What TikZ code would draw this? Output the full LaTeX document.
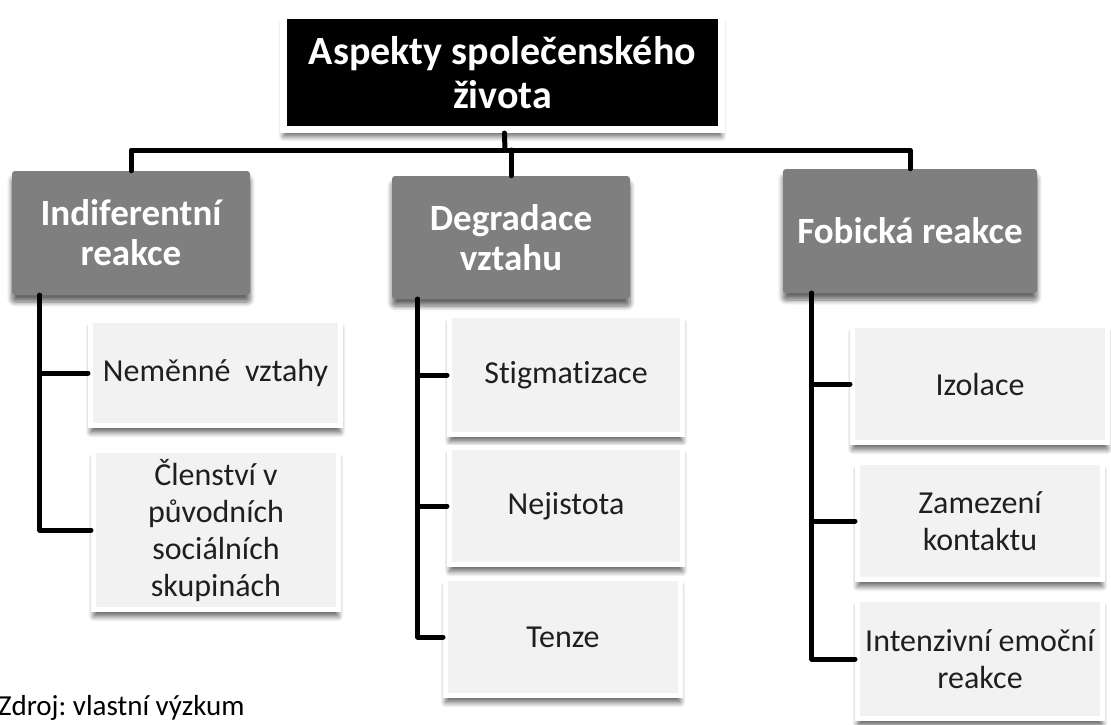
\documentclass[tikz,border=0pt]{standalone}
\usepackage{fontspec}
\setmainfont{Carlito}[Ligatures=CommonOff]
\usepackage{tikz}
\usepackage{xcolor}
\usetikzlibrary{shadows.blur}
\definecolor{catgray}{HTML}{7F7F7F}
\definecolor{leafgray}{HTML}{F2F2F2}
\definecolor{leaftext}{HTML}{1F1F1F}
\frenchspacing

\begin{document}
\begin{tikzpicture}[x=1pt,y=-1pt,
  soft/.style={blur shadow={shadow xshift=0pt,shadow yshift=-7pt,shadow blur radius=5pt,
    shadow blur steps=8,shadow opacity=60}},
  root/.style={rectangle,fill=black,draw=white,line width=7pt,text=white,align=center,
    inner sep=0pt,font=\bfseries\fontsize{40}{44}\selectfont,soft},
  cat/.style={rectangle,rounded corners=3pt,fill=catgray,text=white,align=center,
    inner sep=0pt,font=\bfseries\fontsize{37}{40}\selectfont,soft},
  leaf/.style={rectangle,fill=leafgray,draw=white,line width=5pt,text=leaftext,align=center,
    inner sep=0pt,font=\fontsize{32}{37}\selectfont,soft},
  conn/.style={line width=5pt,line join=round,line cap=round}]
\useasboundingbox (0,0) rectangle (1111,724);

% hlavni uzel
\node[root,minimum width=438,minimum height=114] (top) at (502.5,72.5) {Aspekty společenského\\života};

% kategorie
\node[cat,minimum width=238,minimum height=124] (ind) at (131,233) {Indiferentní\\reakce};
\node[cat,minimum width=238,minimum height=123] (deg) at (511,237.5) {Degradace\\vztahu};
\node[cat,minimum width=254,minimum height=124] (fob) at (910,231) {Fobická reakce};

% listy
\node[leaf,minimum width=250,minimum height=105] (nem) at (215.5,373) {Neměnné\ \ vztahy};
\node[leaf,minimum width=245,minimum height=159] (cle) at (216,530) {Členství v\\původních\\sociálních\\skupinách};
\node[leaf,minimum width=233,minimum height=119] (sti) at (566,375) {Stigmatizace};
\node[leaf,minimum width=233,minimum height=117] (nej) at (566,506) {Nejistota};
\node[leaf,minimum width=235,minimum height=117] (ten) at (563,637) {Tenze};
\node[leaf,minimum width=255,minimum height=117] (izo) at (980,384) {Izolace};
\node[leaf,minimum width=245,minimum height=117] (zam) at (980,521) {Zamezení\\kontaktu};
\node[leaf,minimum width=245,minimum height=119] (int) at (980,659) {Intenzivní emoční\\reakce};

\node[anchor=base west,inner sep=0pt,font=\fontsize{29}{34}\selectfont] (src) at (-2,715) {Zdroj: vlastní výzkum};

% spojnice
\coordinate (hub) at (505,150);
\draw[conn] (top) -- (hub);
\draw[conn] (ind.north) |- (hub) -| (fob.north);
\draw[conn] (deg.north) -- (deg.north |- hub);

\draw[conn] ([xshift=28pt]ind.south west) |- (nem.west);
\draw[conn] ([xshift=28pt]ind.south west) |- (cle.west);
\draw[conn] ([xshift=26pt]deg.south west) |- (sti.west);
\draw[conn] ([xshift=26pt]deg.south west) |- (nej.west);
\draw[conn] ([xshift=26pt]deg.south west) |- (ten.west);
\draw[conn] ([xshift=29pt]fob.south west) |- (izo.west);
\draw[conn] ([xshift=29pt]fob.south west) |- (zam.west);
\draw[conn] ([xshift=29pt]fob.south west) |- (int.west);
\end{tikzpicture}
\end{document}
